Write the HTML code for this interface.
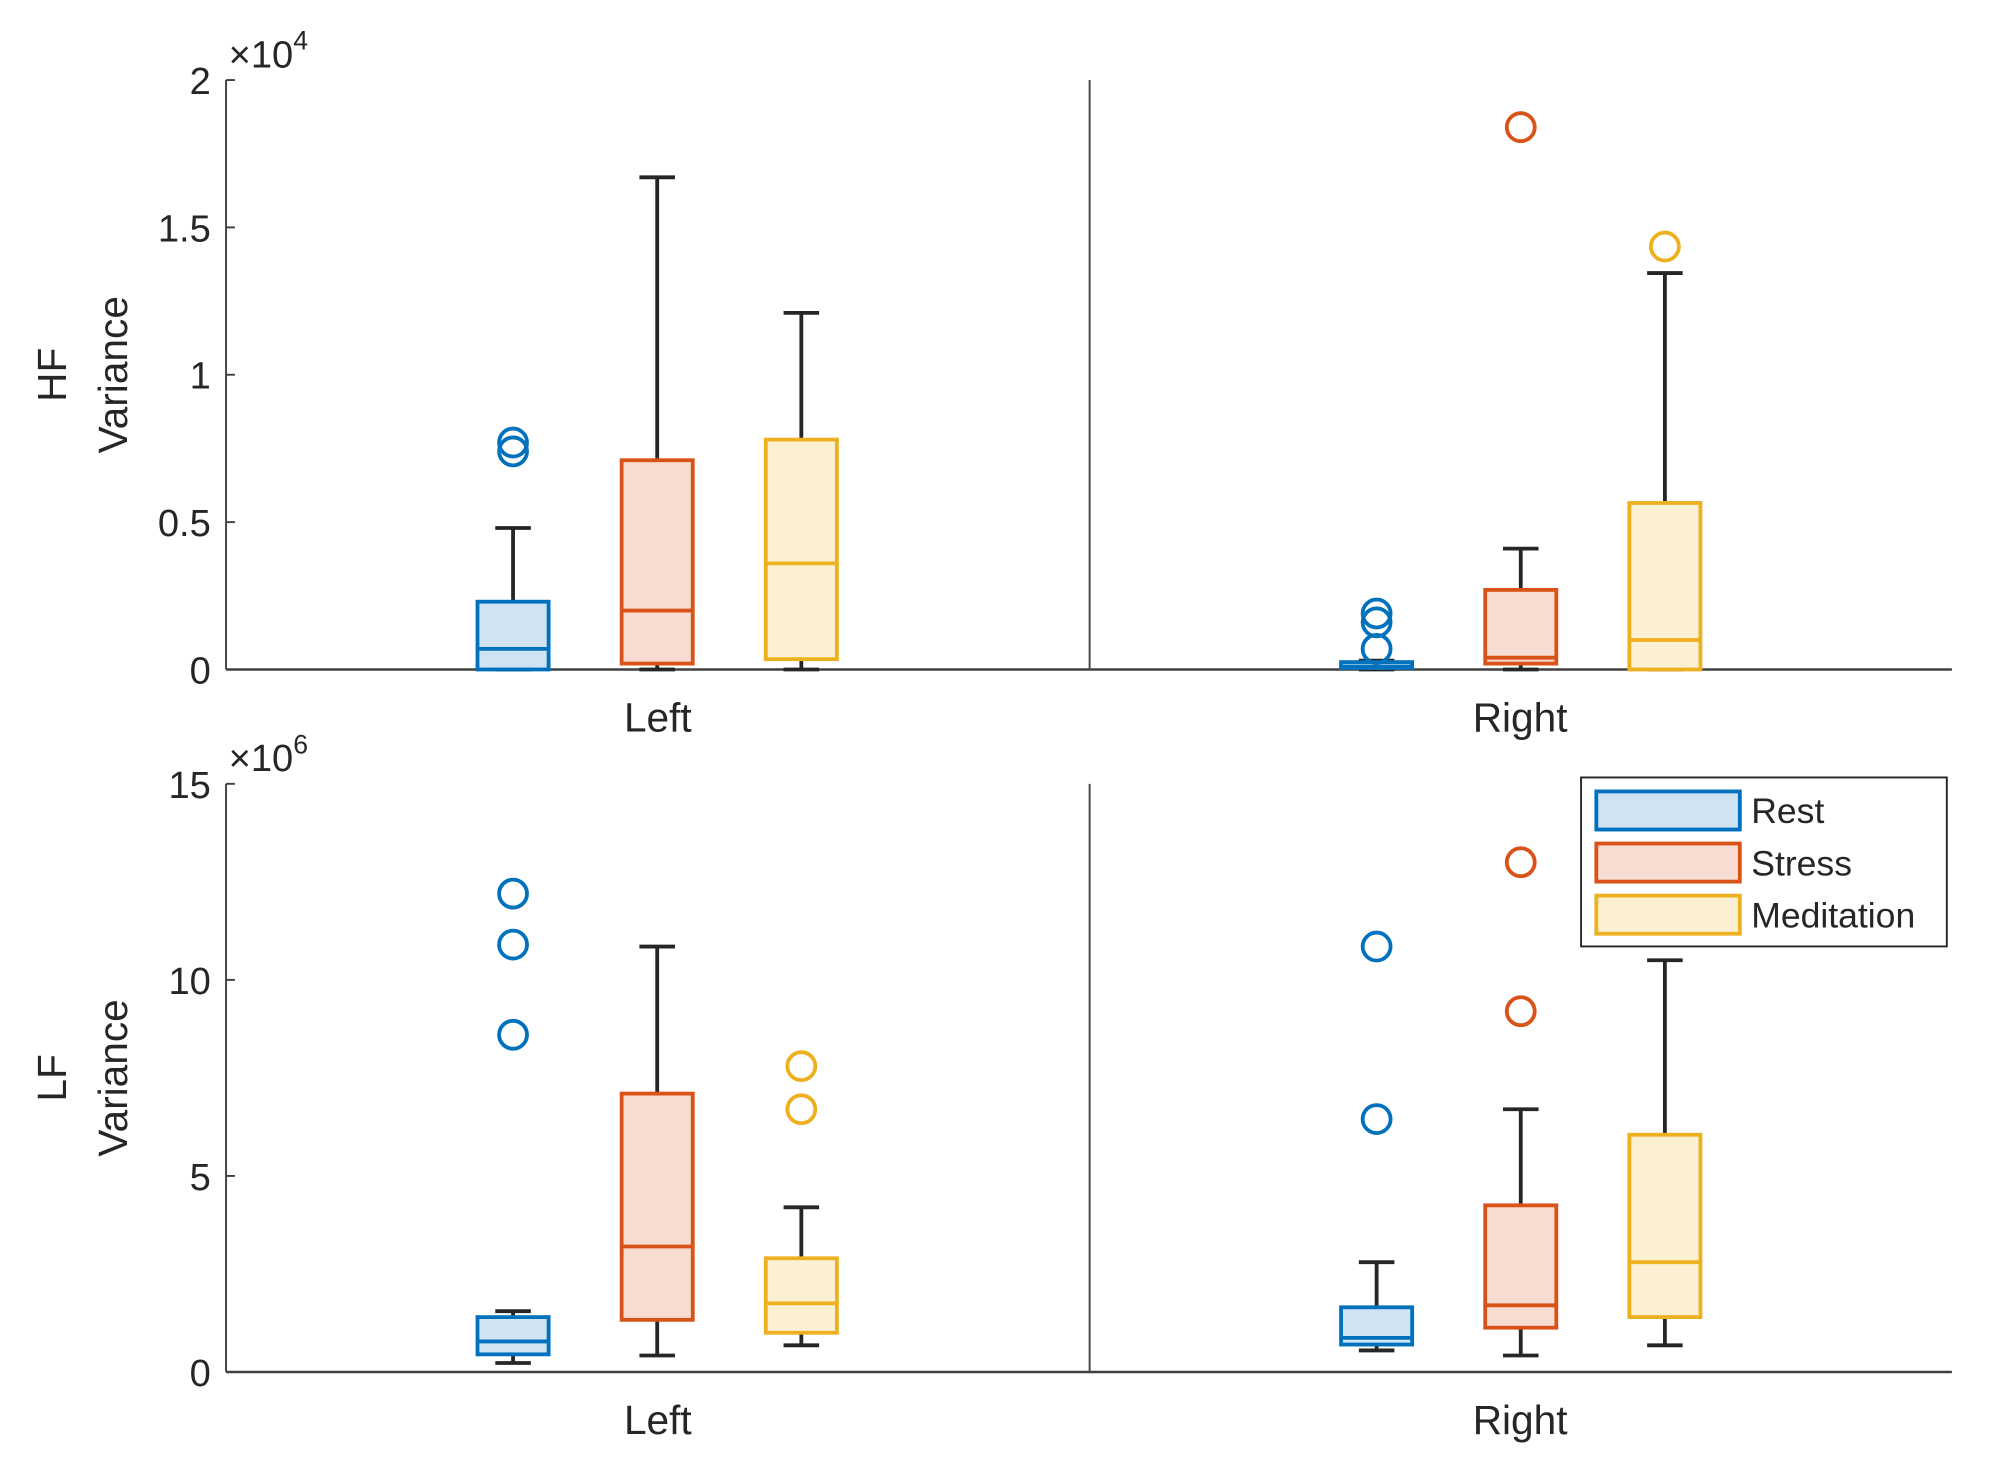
<!DOCTYPE html>
<html><head><meta charset="utf-8"><style>
html,body{margin:0;padding:0;background:#fff;}
svg{display:block;}
text{font-family:"Liberation Sans",sans-serif;fill:#262626;}
</style></head><body>
<svg id="chart" width="1990" height="1466" viewBox="0 0 1567 1154" preserveAspectRatio="none" xmlns="http://www.w3.org/2000/svg"></svg>
<script>
const groups = ["Left","Right"];
const series = ["Rest","Stress","Meditation"];
const colors = ["#0072BD","#D95319","#EDB120"];
const fills = ["#cfe3f3","#f7ddd1","#fcf0d2"];
// each stat: [lowerWhisker, q1, median, q3, upperWhisker]
const hfStats = [
  [[0,0,0.07,0.23,0.48],[0,0.02,0.20,0.71,1.67],[0,0.035,0.36,0.78,1.21]],
  [[0,0.005,0.01,0.025,0.03],[0,0.02,0.04,0.27,0.41],[0,0,0.10,0.565,1.345]]
];
const hfOutliers = [
  [[0.77,0.74],[],[]],
  [[0.19,0.16,0.07],[1.84],[1.435]]
];
const lfStats = [
  [[0.23,0.45,0.78,1.4,1.55],[0.42,1.33,3.2,7.1,10.85],[0.68,1.0,1.75,2.9,4.2]],
  [[0.55,0.7,0.87,1.65,2.8],[0.42,1.13,1.7,4.25,6.7],[0.68,1.4,2.8,6.05,10.5]]
];
const lfOutliers = [
  [[12.2,10.9,8.6],[],[7.8,6.7]],
  [[10.85,6.45],[13.0,9.2],[]]
];
const hfTicks = [0,0.5,1,1.5,2];
const hfTickLabels = ["0","0.5","1","1.5","2"];
const lfTicks = [0,5,10,15];
const lfTickLabels = ["0","5","10","15"];

const NS="http://www.w3.org/2000/svg";
const svg=document.getElementById('chart');
function mk(tag,attrs,parent){const e=document.createElementNS(NS,tag);for(const k in attrs)e.setAttribute(k,attrs[k]);(parent||svg).appendChild(e);return e;}

const X0=178,X1=1537,XD=858;
function xPos(g,s){return [404,1084][g]+s*113.5;}

function panel(name,top,bottom,ymax,ticks,tickLabels,stats,outliers,exp,ylab){
  const y=v=>bottom-(v/ymax)*(bottom-top);
  const grp=mk('g',{});
  
  
  let a=mk('line',{x1:X0,y1:top,x2:X0,y2:bottom,stroke:'#404040','stroke-width':1.5},grp);
  
  a=mk('line',{x1:X0,y1:bottom,x2:X1,y2:bottom,stroke:'#404040','stroke-width':2},grp);
  
  a=mk('line',{x1:XD,y1:top,x2:XD,y2:bottom,stroke:'#404040','stroke-width':1.5},grp);
  
  ticks.forEach((t,i)=>{
    const tk=mk('line',{x1:X0,y1:y(t),x2:X0+7,y2:y(t),stroke:'#404040','stroke-width':1.5},grp);
    
    const tl=mk('text',{x:X0-12,y:y(t)+11,'text-anchor':'end','font-size':30},grp);
    
    tl.textContent=tickLabels[i];
  });
  const ex=mk('text',{x:180,y:top-10,'font-size':30},grp);
  
  ex.innerHTML='×10<tspan font-size="21" dy="-14">'+exp+'</tspan>';
  groups.forEach((gname,g)=>{
    const gl=mk('text',{x:[518,1197][g],y:bottom+49,'text-anchor':'middle','font-size':32},grp);
    
    gl.textContent=gname;
    series.forEach((sname,s)=>{
      const st=stats[g][s],cx=xPos(g,s),hw=28;
      const bg=mk('g',{},grp);
      
      
      mk('line',{x1:cx,y1:y(st[3]),x2:cx,y2:y(st[4]),stroke:'#262626','stroke-width':3},bg);
      mk('line',{x1:cx-14,y1:y(st[4]),x2:cx+14,y2:y(st[4]),stroke:'#262626','stroke-width':3},bg);
      mk('line',{x1:cx,y1:y(st[1]),x2:cx,y2:y(st[0]),stroke:'#262626','stroke-width':3},bg);
      mk('line',{x1:cx-14,y1:y(st[0]),x2:cx+14,y2:y(st[0]),stroke:'#262626','stroke-width':3},bg);
      mk('rect',{x:cx-hw,y:y(st[3]),width:2*hw,height:Math.max(1,y(st[1])-y(st[3])),fill:fills[s],stroke:colors[s],'stroke-width':3},bg);
      mk('line',{x1:cx-hw,y1:y(st[2]),x2:cx+hw,y2:y(st[2]),stroke:colors[s],'stroke-width':3},bg);
      outliers[g][s].forEach(v=>{
        const c=mk('circle',{cx:cx,cy:y(v),r:11,fill:'none',stroke:colors[s],'stroke-width':3},grp);
        
      });
    });
  });
  const ylt=mk('text',{transform:'translate(52,'+((top+bottom)/2)+') rotate(-90)','text-anchor':'middle','font-size':32},grp);
  
  ylt.innerHTML='<tspan x="0" dy="0">'+ylab+'</tspan><tspan x="0" dy="48">Variance</tspan>';
}
panel('hf',63,527,2,hfTicks,hfTickLabels,hfStats,hfOutliers,'4','HF');
panel('lf',617,1080,15,lfTicks,lfTickLabels,lfStats,lfOutliers,'6','LF');

const lg=mk('g',{});


mk('rect',{x:1245,y:612,width:288,height:133,fill:'#fff',stroke:'#262626','stroke-width':1.5},lg);
series.forEach((sname,i)=>{
  const ey=638+i*41;
  const le=mk('g',{},lg);
  
  
  mk('rect',{x:1257,y:ey-15,width:113,height:30,fill:fills[i],stroke:colors[i],'stroke-width':3},le);
  const t=mk('text',{x:1379,y:ey+10,'font-size':28},le);
  t.textContent=sname;
});
</script>
</body></html>
